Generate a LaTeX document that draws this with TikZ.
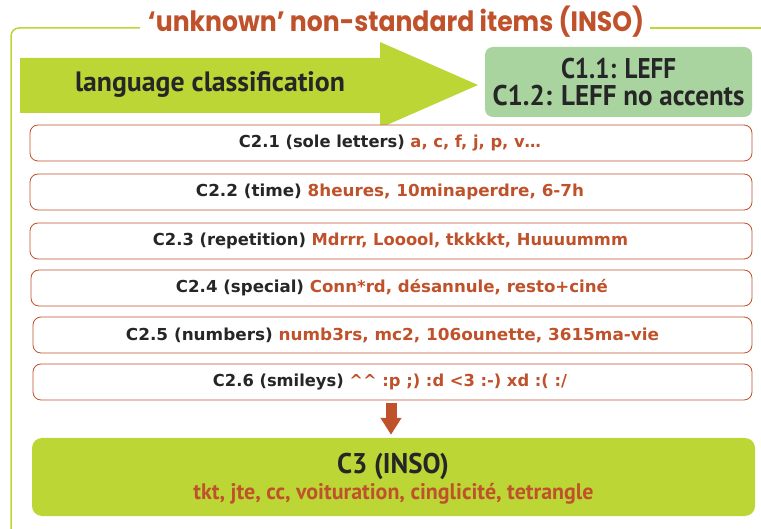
\documentclass[tikz,border=0pt]{standalone}
\usepackage{fontspec}
\usepackage{graphicx}
\usetikzlibrary{arrows.meta}
\setmainfont{DejaVu Sans}
\newfontfamily\titlefont{Poppins}
\newfontfamily\condfont{PT Sans}
\definecolor{lime}{HTML}{BCD635}
\definecolor{sage}{HTML}{A9D4A0}
\definecolor{rust}{HTML}{C0522B}
\definecolor{ink}{HTML}{262626}
\newcommand\fitw[2]{\resizebox{#1}{\height}{#2}}
\tikzset{
  catbox/.style={draw=rust, line width=0.8pt, rounded corners=8pt, fill=white,
    minimum height=36pt, inner sep=0pt, font=\bfseries\fontsize{16.5}{18}\selectfont, text=ink},
}
\begin{document}
\begin{tikzpicture}[x=1pt,y=-1pt]
\useasboundingbox (0,0) rectangle (761,529);
\clip (0,0) rectangle (761,529);
% frame
\draw[lime, line width=1.5pt, rounded corners=8pt] (140,28) -- (11,28) -- (11,545);
\draw[lime, line width=1.5pt] (650,28) -- (770,28);
\node[font=\titlefont\bfseries\fontsize{28}{30}\selectfont, text=rust, inner sep=0pt] (title) at (396,22) {\fitw{496pt}{‘unknown’ non-standard items (INSO)}};
% big arrow
\fill[lime] (20,58) -- (380,58) -- (380,42) -- (478,85) -- (380,128) -- (380,113) -- (20,113) -- cycle;
\node[font=\condfont\bfseries\fontsize{28}{30}\selectfont, text=ink, inner sep=0pt] (lang) at (210,85) {\fitw{270pt}{language classification}};
% C1
\node[fill=sage, rounded corners=8pt, minimum width=267pt, minimum height=70pt, inner sep=0pt,
  align=center, font=\condfont\bfseries\fontsize{28.5}{27}\selectfont, text=ink] (c1) at (618.5,82)
  {\fitw{115pt}{C1.1: LEFF}\\\fitw{252pt}{C1.2: LEFF no accents}};
% C2 boxes
\node[catbox, minimum width=722pt] (c21) at (391,143) {};
\node[catbox, minimum width=722pt] (c22) at (391,192) {};
\node[catbox, minimum width=722pt] (c23) at (391,241) {};
\node[catbox, minimum width=721pt] (c24) at (391.5,288) {};
\node[catbox, minimum width=719pt] (c25) at (392.5,335) {};
\node[catbox, minimum width=719pt] (c26) at (392.5,382) {};
\node[catbox, draw=none, fill=none] (t21) at (390,143) {\fitw{302pt}{C2.1 (sole letters) \textcolor{rust}{a, c, f, j, p, v…}}};
\node[catbox, draw=none, fill=none] (t22) at (390,192) {\fitw{388pt}{C2.2 (time) \textcolor{rust}{8heures, 10minaperdre, 6-7h}}};
\node[catbox, draw=none, fill=none] (t23) at (390.5,241) {\fitw{475pt}{C2.3 (repetition) \textcolor{rust}{Mdrrr, Looool, tkkkkt, Huuuummm}}};
\node[catbox, draw=none, fill=none] (t24) at (392,288) {\fitw{432pt}{C2.4 (special) \textcolor{rust}{Conn*rd, désannule, resto+ciné}}};
\node[catbox, draw=none, fill=none] (t25) at (392.5,335) {\fitw{533pt}{C2.5 (numbers) \textcolor{rust}{numb3rs, mc2, 106ounette, 3615ma-vie}}};
\node[catbox, draw=none, fill=none] (t26) at (390,382) {\fitw{354pt}{C2.6 (smileys) \textcolor{rust}{\^{}\^{} :p ;) :d <3 :-) xd :( :/}}};
% C3
\node[fill=lime, rounded corners=10pt, minimum width=723pt, minimum height=78pt, inner sep=0pt] (c3) at (393.5,477) {};
\node[font=\condfont\bfseries\fontsize{28.5}{30}\selectfont, text=ink, inner sep=0pt] (c3t) at (393,466) {\fitw{112pt}{C3 (INSO)}};
\node[font=\condfont\bfseries\fontsize{22.5}{24}\selectfont, text=rust, inner sep=0pt] (c3s) at (393.5,494) {\fitw{400pt}{tkt, jte, cc, voituration, cinglicité, tetrangle}};
% down arrow
\draw[rust, line width=11pt, -{Triangle[width=20pt,length=17pt]}, shorten <=3pt, shorten >=3pt]
  ([xshift=-1.5pt]c26.south) -- ([xshift=-2.5pt]c3.north);
\end{tikzpicture}
\end{document}
